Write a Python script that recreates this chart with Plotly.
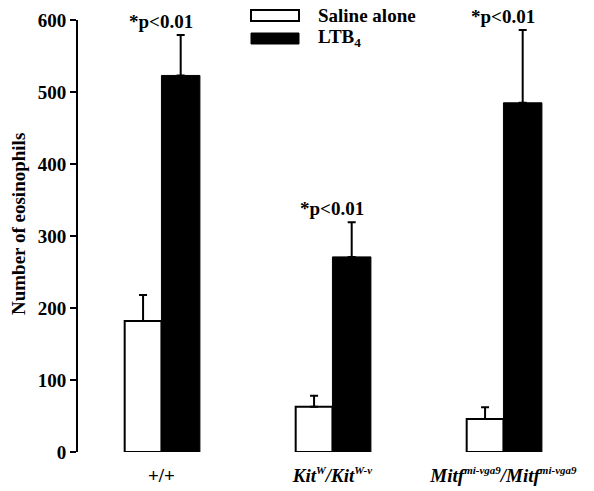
import plotly.graph_objects as go

categories = ["+/+", "Kit<sup>W</sup>/Kit<sup>W-v</sup>", "Mitf<sup>mi-vga9</sup>/Mitf<sup>mi-vga9</sup>"]
SUP = '<sup><span style="font-size:11px">{}</span></sup>'
tick_labels = ["<b>+/+</b>",
               "<b><i>Kit" + SUP.format("W") + "/Kit" + SUP.format("W-v") + "</i></b>",
               "<b><i>Mitf" + SUP.format("mi-vga9") + "/Mitf" + SUP.format("mi-vga9") + "</i></b>"]
saline = [182, 63, 46]
saline_err = [36, 15, 16]
ltb4 = [523, 271, 485]
ltb4_err = [56, 48, 101]
sig_labels = ["*p<0.01", "*p<0.01", "*p<0.01"]

FONT = "Liberation Serif, Times New Roman, serif"
xpos = list(range(len(categories)))

fig = go.Figure()
fig.add_trace(go.Bar(
    x=xpos, y=saline, width=0.215, offset=-0.215,
    marker=dict(color="white", line=dict(color="black", width=2)),
    error_y=dict(type="data", array=saline_err, arrayminus=[0]*3, symmetric=False,
                 color="black", thickness=2, width=4),
    name="Saline alone", showlegend=False, hoverinfo="skip"))
fig.add_trace(go.Bar(
    x=xpos, y=ltb4, width=0.225, offset=0,
    marker=dict(color="black", line=dict(color="black", width=1)),
    error_y=dict(type="data", array=ltb4_err, arrayminus=[0]*3, symmetric=False,
                 color="black", thickness=2, width=4),
    name="LTB4", showlegend=False, hoverinfo="skip"))

for i in range(len(categories)):
    fig.add_annotation(x=xpos[i], y=ltb4[i] + ltb4_err[i], text="<b>" + sig_labels[i].replace("<", "&lt;") + "</b>",
                       showarrow=False, yanchor="bottom", yshift=1,
                       font=dict(family=FONT, size=19, color="black"))

L, R, T, B = 78, 10, 20, 39
W, H = 594, 491
pw, ph = W - L - R, H - T - B
def px(x): return (x - L) / pw
def py(y): return (H - B - y) / ph

# legend
fig.add_shape(type="rect", xref="paper", yref="paper", x0=px(251), x1=px(299), y0=py(21), y1=py(10),
              line=dict(color="black", width=2), fillcolor="white")
fig.add_shape(type="rect", xref="paper", yref="paper", x0=px(251), x1=px(299), y0=py(44), y1=py(33),
              line=dict(color="black", width=1), fillcolor="black")
fig.add_annotation(xref="paper", yref="paper", x=px(316), y=py(16), text="<b>Saline alone</b>",
                   showarrow=False, xanchor="left", yanchor="middle",
                   font=dict(family=FONT, size=19, color="black"))
fig.add_annotation(xref="paper", yref="paper", x=px(316), y=py(38), text="<b>LTB<sub>4</sub></b>",
                   showarrow=False, xanchor="left", yanchor="middle",
                   font=dict(family=FONT, size=19, color="black"))
# y-axis title
fig.add_annotation(xref="paper", yref="paper", x=px(18), y=py(224), text="<b>Number of eosinophils</b>",
                   textangle=-90, showarrow=False, xanchor="center", yanchor="middle",
                   font=dict(family=FONT, size=19, color="black"))

fig.update_layout(
    width=W, height=H, margin=dict(l=L, r=R, t=T, b=B),
    plot_bgcolor="white", paper_bgcolor="white", barmode="overlay",
    font=dict(family=FONT, color="black"),
    xaxis=dict(range=[-0.488, -0.488 + pw / 171], tickvals=xpos, ticktext=tick_labels,
               showline=False, showgrid=False, zeroline=False, ticks="", automargin=False,
               tickfont=dict(family=FONT, size=19, color="black", weight="bold"), ticklabelstandoff=10),
    yaxis=dict(range=[0, 600], tickvals=[0, 100, 200, 300, 400, 500, 600],
               ticktext=["<b>%d</b>" % v for v in [0, 100, 200, 300, 400, 500, 600]],
               showline=True, linecolor="black", linewidth=2, ticks="outside", automargin=False,
               ticklen=6, tickwidth=2, tickcolor="black", showgrid=False, zeroline=False,
               tickfont=dict(family=FONT, size=19, color="black", weight="bold")),
)

fig.write_html("out.html", config={"displayModeBar": False},
               post_script="document.body.style.margin='0';")
